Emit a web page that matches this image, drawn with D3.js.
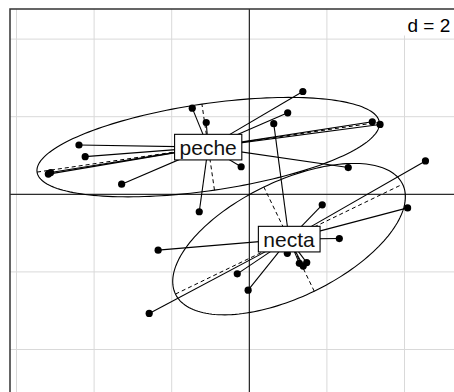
<!DOCTYPE html>
<html>
<head>
<meta charset="utf-8">
<script src="https://cdn.jsdelivr.net/npm/d3@7"></script>
<style>
  html, body { margin: 0; padding: 0; background: #fff; }
  svg { display: block; }
  text { font-family: "Liberation Sans", Arial, Helvetica, sans-serif; }
</style>
</head>
<body>
<svg id="chart" width="454" height="392"></svg>
<script>
// ---- data ----
const categories = ["peche", "necta"];
const pecheX = [-1.47, -1.11, -4.39, -4.23, -5.18, -5.12, -3.29, -0.21, 1.38, 0.99, 3.17, 3.37, 2.55, -1.29];
const pecheY = [ 2.22,  1.85,  1.27,  0.97,  0.52,  0.56,  0.26,  0.71, 2.65, 2.10, 1.87, 1.80, 0.69, -0.45];
const nectaX = [0.63, 4.54, -2.35, -2.58, 1.88, 4.08, 2.32, 1.29, 1.48, -0.31, -0.03, 0.98, 1.39];
const nectaY = [1.82, 0.86, -1.44, -3.07, -0.27, -0.35, -1.14, -1.78, -1.76, -2.05, -2.47, -1.52, -1.85];
const gridXTicks = [-6, -4, -2, 0, 2, 4, 6];
const gridYTicks = [-6, -4, -2, 0, 2, 4];
const gridStepLabel = "d = 2";
const cellipse = 1.5;

// ---- layout ----
const svg = d3.select("#chart");
const x = d3.scaleLinear().domain([0, 2]).range([249.3, 326.9]);
const y = d3.scaleLinear().domain([0, 2]).range([194.3, 116.7]);
const xDom = [x.invert(10), x.invert(520)];
const yDom = [y.invert(9), y.invert(460)];

const clip = svg.append("defs").append("clipPath").attr("id", "plotclip")
  .append("rect")
  .attr("x", x(xDom[0])).attr("y", y(yDom[0]))
  .attr("width", x(xDom[1]) - x(xDom[0])).attr("height", y(yDom[1]) - y(yDom[0]));

const g = svg.append("g").attr("clip-path", "url(#plotclip)");

// grid
g.selectAll("line.gx").data(gridXTicks).join("line")
  .attr("x1", d => x(d)).attr("x2", d => x(d))
  .attr("y1", y(yDom[0])).attr("y2", y(yDom[1]))
  .attr("stroke", "#d9d9d9").attr("stroke-width", 1);
g.selectAll("line.gy").data(gridYTicks).join("line")
  .attr("y1", d => y(d)).attr("y2", d => y(d))
  .attr("x1", x(xDom[0])).attr("x2", x(xDom[1]))
  .attr("stroke", "#d9d9d9").attr("stroke-width", 1);

// axes through origin
g.append("line").attr("x1", x(0)).attr("x2", x(0)).attr("y1", y(yDom[0])).attr("y2", y(yDom[1]))
  .attr("stroke", "#000").attr("stroke-width", 1);
g.append("line").attr("y1", y(0)).attr("y2", y(0)).attr("x1", x(xDom[0])).attr("x2", x(xDom[1]))
  .attr("stroke", "#000").attr("stroke-width", 1);

// groups
const groups = [
  { name: categories[0], xs: pecheX, ys: pecheY },
  { name: categories[1], xs: nectaX, ys: nectaY }
];
groups.forEach(gr => {
  const n = gr.xs.length;
  gr.pts = gr.xs.map((v, i) => [v, gr.ys[i]]);
  gr.mx = d3.mean(gr.xs); gr.my = d3.mean(gr.ys);
  const vx = d3.sum(gr.xs, v => (v - gr.mx) ** 2) / n;
  const vy = d3.sum(gr.ys, v => (v - gr.my) ** 2) / n;
  const cxy = d3.sum(gr.pts, p => (p[0] - gr.mx) * (p[1] - gr.my)) / n;
  const tr = vx + vy, det = vx * vy - cxy * cxy;
  const disc = Math.sqrt(Math.max(0, tr * tr / 4 - det));
  const l1 = tr / 2 + disc, l2 = tr / 2 - disc;
  let e1 = Math.abs(cxy) > 1e-12 ? [l1 - vy, cxy] : (vx >= vy ? [1, 0] : [0, 1]);
  const nn = Math.hypot(e1[0], e1[1]); e1 = [e1[0] / nn, e1[1] / nn];
  const e2 = [-e1[1], e1[0]];
  gr.a = cellipse * Math.sqrt(l1); gr.b = cellipse * Math.sqrt(Math.max(0, l2));
  gr.e1 = e1; gr.e2 = e2;
});

// ellipses
groups.forEach(gr => {
  const ts = d3.range(0, 361, 2).map(t => t * Math.PI / 180);
  const path = ts.map(t => [
    x(gr.mx + gr.a * Math.cos(t) * gr.e1[0] + gr.b * Math.sin(t) * gr.e2[0]),
    y(gr.my + gr.a * Math.cos(t) * gr.e1[1] + gr.b * Math.sin(t) * gr.e2[1])
  ]);
  g.append("path").attr("d", d3.line()(path) + "Z")
    .attr("fill", "none").attr("stroke", "#000").attr("stroke-width", 1.1);
  // dashed ellipse axes
  [[gr.e1, gr.a], [gr.e2, gr.b]].forEach(([e, r]) => {
    g.append("line")
      .attr("x1", x(gr.mx - r * e[0])).attr("y1", y(gr.my - r * e[1]))
      .attr("x2", x(gr.mx + r * e[0])).attr("y2", y(gr.my + r * e[1]))
      .attr("stroke", "#000").attr("stroke-width", 1).attr("stroke-dasharray", "4,3");
  });
});

// stars
groups.forEach(gr => {
  g.selectAll(null).data(gr.pts).join("line")
    .attr("x1", x(gr.mx)).attr("y1", y(gr.my))
    .attr("x2", d => x(d[0])).attr("y2", d => y(d[1]))
    .attr("stroke", "#000").attr("stroke-width", 1.1);
});
// points
groups.forEach(gr => {
  g.selectAll(null).data(gr.pts).join("circle")
    .attr("cx", d => x(d[0])).attr("cy", d => y(d[1])).attr("r", 3.6)
    .attr("fill", "#000");
});

// labels
groups.forEach(gr => {
  const lg = g.append("g");
  const t = lg.append("text").text(gr.name)
    .attr("x", x(gr.mx)).attr("y", y(gr.my))
    .attr("text-anchor", "middle").attr("dominant-baseline", "central")
    .attr("font-size", 21).attr("fill", "#111");
  const bb = t.node().getBBox();
  lg.insert("rect", "text")
    .attr("x", bb.x - 5).attr("y", y(gr.my) - 12.8)
    .attr("width", bb.width + 10).attr("height", 25.6)
    .attr("fill", "#fff").attr("stroke", "#000").attr("stroke-width", 1.1);
});

// d = 2 box
const dl = g.append("g");
const dt = dl.append("text").text(gridStepLabel)
  .attr("x", 407.5).attr("y", 31.5).attr("font-size", 19).attr("fill", "#000");
dl.insert("rect", "text").attr("x", 403).attr("y", 9.5).attr("width", 80).attr("height", 26)
  .attr("fill", "#fff");

// frame
svg.append("rect")
  .attr("x", x(xDom[0])).attr("y", y(yDom[0]))
  .attr("width", x(xDom[1]) - x(xDom[0])).attr("height", y(yDom[1]) - y(yDom[0]))
  .attr("fill", "none").attr("stroke", "#333").attr("stroke-width", 1.5);
</script>
</body>
</html>
